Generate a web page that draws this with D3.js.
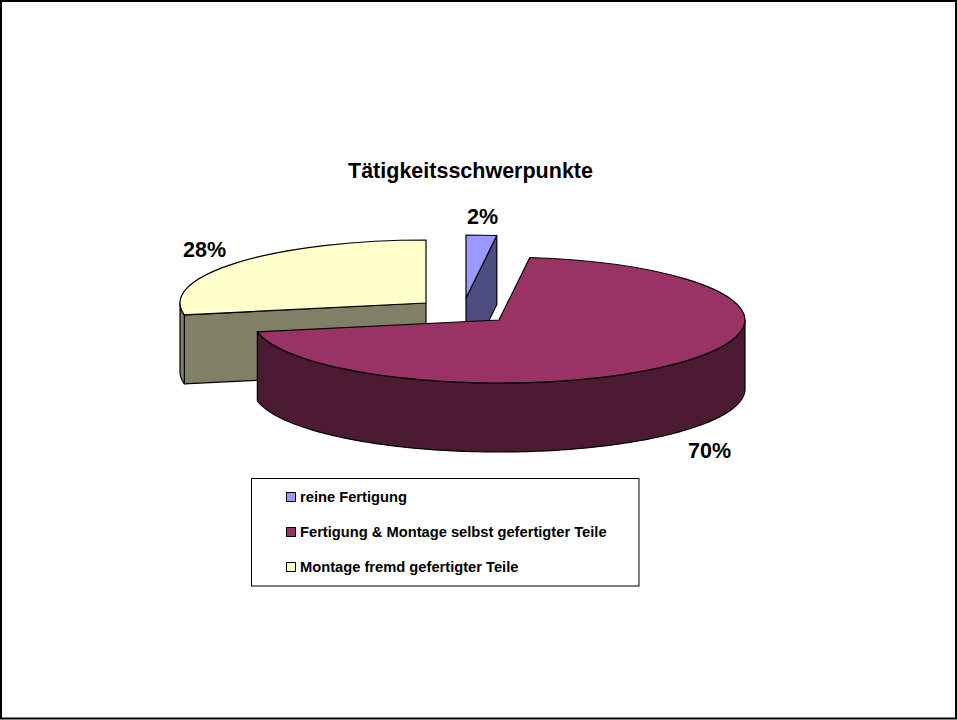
<!DOCTYPE html>
<html><head><meta charset="utf-8">
<script src="https://cdn.jsdelivr.net/npm/d3@7"></script>
<style>html,body{margin:0;padding:0;background:#fff}svg{display:block}text{font-family:"Liberation Sans",Arial,sans-serif;font-weight:bold;fill:#000}</style>
</head><body><svg id="c" width="957" height="720"></svg>
<script>
const title = "Tätigkeitsschwerpunkte";
const categories = ["reine Fertigung","Fertigung & Montage selbst gefertigter Teile","Montage fremd gefertigter Teile"];
const values = [2,70,28];
const labels = ["2%","70%","28%"];
const topColors = ["#9999FF","#993366","#FFFFCC"];
const sideColors = ["#4D4D80","#4D1A33","#808066"];
const centers = [[466,298],[499,320],[426,303]];
const labelPos = [[482.5,224],[709.5,458],[204.5,257]];
const legendY = [497,532,567];
const RX=246, RY=63, DEPTH=69;

const svg=d3.select("#c");
svg.append("rect").attr("x",1).attr("y",1).attr("width",955).attr("height",717.5).attr("fill","#fff").attr("stroke","#000").attr("stroke-width",2);

const arcs=d3.pie().sort(null).value(d=>d)(values);
const pt=(c,a,dz=0)=>[c[0]+RX*Math.sin(a),c[1]-RY*Math.cos(a)+dz];
const line=d3.line();
const style=(s,f)=>s.attr("fill",f).attr("stroke","#000").attr("stroke-width",1.2).attr("stroke-linejoin","round");
const samples=(a0,a1)=>{const n=Math.max(2,Math.ceil((a1-a0)/0.02));return d3.range(n+1).map(i=>a0+(a1-a0)*i/n);};

[0,2,1].forEach(i=>{
  const {startAngle:a0,endAngle:a1}=arcs[i], c=centers[i];
  const g=svg.append("g");
  if(i===0){
    style(g.append("path"),sideColors[i]).attr("d",line([c,pt(c,a1),pt(c,a1,DEPTH),[c[0],c[1]+DEPTH]])+"Z");
  }
  if(i===2){
    style(g.append("path"),sideColors[i]).attr("d",line([c,pt(c,a0),pt(c,a0,DEPTH),[c[0],c[1]+DEPTH]])+"Z");
  }
  const r0=Math.max(a0,Math.PI/2), r1=Math.min(a1,3*Math.PI/2);
  if(r1>r0){
    const s=samples(r0,r1);
    style(g.append("path"),sideColors[i]).attr("d",line([...s.map(a=>pt(c,a)),...s.slice().reverse().map(a=>pt(c,a,DEPTH))])+"Z");
  }
  const arc=d3.arc().innerRadius(0).outerRadius(RX);
  style(g.append("path"),topColors[i])
    .attr("transform",`translate(${c[0]},${c[1]}) scale(1,${RY/RX})`)
    .attr("vector-effect","non-scaling-stroke")
    .attr("d",arc(arcs[i]));
});

svg.append("text").attr("x",470.5).attr("y",178).attr("text-anchor","middle").attr("font-size",21.5).text(title);
svg.selectAll(".lab").data(labels).join("text").attr("class","lab")
  .attr("x",(d,i)=>labelPos[i][0]).attr("y",(d,i)=>labelPos[i][1]).attr("text-anchor","middle").attr("font-size",21.5).text(d=>d);

svg.append("rect").attr("x",251.5).attr("y",478.5).attr("width",387.5).attr("height",107.5).attr("fill","#fff").attr("stroke","#000").attr("stroke-width",1);
categories.forEach((t,i)=>{
  svg.append("rect").attr("x",286.5).attr("y",legendY[i]-4.5).attr("width",9).attr("height",9).attr("fill",topColors[i]).attr("stroke","#000").attr("stroke-width",1);
  svg.append("text").attr("x",300).attr("y",legendY[i]+5).attr("font-size",14.7).text(t);
});
</script></body></html>
